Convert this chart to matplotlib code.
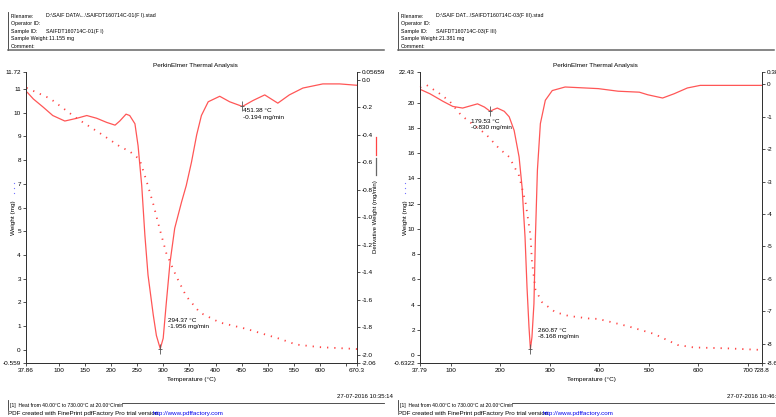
import numpy as np
import matplotlib
matplotlib.use('Agg')
import matplotlib.pyplot as plt
from matplotlib.lines import Line2D

plt.rcParams['font.family'] = ['Liberation Sans Narrow', 'Liberation Sans', 'DejaVu Sans']

# ---- sample F I (left) ----
temp_d1 = [37.86, 37.9, 40, 52, 71, 89, 112, 135, 154, 173, 192, 208, 217, 229, 236, 246, 252,
           259, 265, 271, 281, 287, 294.37, 300, 306, 313, 322, 335, 344, 354, 364, 373, 386,
           408, 427, 451.38, 472, 494, 519, 541, 567, 605, 637, 670.3]
deriv_d1 = [-0.41, -0.09, -0.09, -0.14, -0.20, -0.26, -0.30, -0.28, -0.26, -0.28, -0.31, -0.33,
            -0.30, -0.25, -0.26, -0.32, -0.48, -0.77, -1.13, -1.42, -1.71, -1.86, -1.956, -1.88,
            -1.62, -1.33, -1.08, -0.89, -0.77, -0.60, -0.40, -0.26, -0.16, -0.12, -0.16, -0.194,
            -0.15, -0.11, -0.17, -0.11, -0.06, -0.03, -0.03, -0.04]
temp_w1 = [39, 84, 135, 179, 217, 236, 255, 268, 281, 294, 306, 325, 344, 370, 408, 459, 523,
           554, 599, 662, 670.3]
weight1 = [11.05, 10.6, 9.76, 9.14, 8.58, 8.37, 8.03, 7.13, 6.15, 5.04, 4.07, 3.1, 2.26, 1.57,
           1.15, 0.88, 0.46, 0.22, 0.11, 0.04, 0.03]

# ---- sample F III (right) ----
temp_d3 = [37.79, 58, 84, 104, 124, 154, 168, 179.53, 186, 194, 208, 218, 228, 238, 244, 250,
           254, 258, 260.87, 264, 268, 271, 275, 281, 291, 305, 331, 358, 398, 438, 481, 498,
           528, 551, 578, 604, 718, 728.8]
deriv_d3 = [-0.15, -0.29, -0.52, -0.68, -0.73, -0.60, -0.70, -0.83, -0.78, -0.73, -0.83, -1.0,
            -1.42, -2.24, -3.17, -4.71, -6.26, -7.49, -8.168, -7.8, -6.77, -4.71, -2.65, -1.21,
            -0.49, -0.19, -0.08, -0.10, -0.13, -0.21, -0.24, -0.32, -0.42, -0.29, -0.11, -0.03,
            -0.03, -0.03]
temp_w3 = [38, 51, 78, 98, 121, 144, 171, 198, 218, 238, 251, 261, 264, 271, 284, 311, 338,
           378, 398, 458, 511, 558, 591, 658, 718, 728.8]
weight3 = [21.2, 21.4, 20.7, 20.1, 19.0, 18.3, 17.5, 16.35, 15.7, 14.2, 12.1, 9.5, 7.4, 5.2,
           4.2, 3.4, 3.1, 2.9, 2.86, 2.28, 1.67, 0.8, 0.6, 0.53, 0.42, 0.41]

W, H = 776, 417
fig = plt.figure(figsize=(W / 100, H / 100), dpi=100)

RED = '#ff4444'
FS = 4.6
PLAIN = ['Liberation Sans', 'DejaVu Sans']


def fx(x):
    return x / W


def fy(y):
    return 1 - y / H


def txt(x, y, s, **kw):
    kw.setdefault('fontsize', FS)
    kw.setdefault('va', 'center')
    fig.text(fx(x), fy(y), s, **kw)


def hline(x0, x1, y, lw=0.6, c='#333333'):
    fig.add_artist(Line2D([fx(x0), fx(x1)], [fy(y), fy(y)], lw=lw, color=c, transform=fig.transFigure))


def vline(x, y0, y1, lw=0.6, c='#333333'):
    fig.add_artist(Line2D([fx(x), fx(x)], [fy(y0), fy(y1)], lw=lw, color=c, transform=fig.transFigure))


def panel(ox, left, right, xlim, xticks, xlabels, wlim, wticks, wlabels, dlim, dticks, dlabels,
          td, d, tw, w, notes, fname, sid, swt, stamp, ylx):
    top, bot = 72, 363
    ax = fig.add_axes([fx(left), fy(bot), fx(right - left), (bot - top) / H])
    ax.set_xlim(*xlim)
    ax.set_ylim(*wlim)
    ax.spines['top'].set_visible(False)
    ax.patch.set_alpha(0)
    ax2 = ax.twinx()
    ax2.set_ylim(*dlim)
    ax2.spines['top'].set_visible(False)
    for a in (ax, ax2):
        for s in a.spines.values():
            s.set_linewidth(0.7)
            s.set_color('#333333')
        a.tick_params(labelsize=FS, length=2.5, width=0.6, pad=1.2, color='#333333')
    ax.set_xticks(xticks)
    ax.set_xticklabels(xlabels)
    ax.set_yticks(wticks)
    ax.set_yticklabels(wlabels)
    ax2.set_yticks(dticks)
    ax2.set_yticklabels(dlabels)

    ax.plot(tw, w, ls=(0, (0.7, 3.3)), color=RED, lw=1.3, clip_on=False)
    ax2.plot(td, d, color=RED, lw=0.9, alpha=0.9)

    for (t, v, dx, dy) in notes:
        ax2.plot([t], [v], marker='|', ms=7, mew=0.6, color='#555555')
        ax2.plot([t], [v], marker='_', ms=3, mew=0.6, color='#555555')
        ax2.annotate('%.2f °C\n%.3f mg/min' % (t, v), (t, v), xytext=(dx, dy),
                     textcoords='offset pixels', fontsize=FS, va='top', ha='left',
                     linespacing=1.3)

    mid = (left + right) / 2
    txt(mid + 4, 66, 'PerkinElmer Thermal Analysis', ha='center')
    txt(mid, 380, 'Temperature (°C)', ha='center')
    txt(ylx, 218, 'Weight (mg)', rotation=90, ha='center')
    fig.add_artist(Line2D([fx(ylx)] * 3, [fy(183), fy(188), fy(193)], ls='none', marker='o',
                          ms=0.9, mew=0, color='#7070ff', transform=fig.transFigure))
    txt(right + 19, 217, 'Derivative Weight (mg/min)', rotation=90, ha='center', fontsize=4.3)
    vline(right + 19, 137, 155, lw=0.9, c=RED)
    vline(right + 19, 158, 175, lw=0.9, c='#666666')

    # header block
    lbls = ['Filename:', 'Operator ID:', 'Sample ID:', 'Sample Weight:', 'Comment:']
    vals = [fname, '', sid, swt, '']
    for i, (l, v) in enumerate(zip(lbls, vals)):
        yy = 16 + i * 7.6
        txt(ox + 11, yy, l, fontsize=3.8)
        txt(ox + (49 if l == 'Sample Weight:' else 46), yy, v, fontsize=3.8)
    vline(ox + 8, 12, 50)
    hline(ox + 8, ox + 384, 50, lw=1.1, c='#666666')

    # footer
    txt(ox + 337, 396, stamp, fontsize=4.3)
    vline(ox + 8, 400, 410)
    hline(ox + 122, ox + 384, 403)
    txt(ox + 10, 405, '[1]  Heat from 40.00°C to 730.00°C at 20.00°C/min', fontsize=3.6)
    txt(ox + 8, 413, 'PDF created with FinePrint pdfFactory Pro trial version',
        fontsize=4.5, family=PLAIN)
    txt(ox + 153, 413, 'http://www.pdffactory.com', fontsize=4.5, color='#0000ee', family=PLAIN)
    hline(ox + 153, ox + 223, 416.5, lw=0.6, c='#0000ee')


panel(0, 26, 357, (37.86, 670.3),
      [37.86, 100, 150, 200, 250, 300, 350, 400, 450, 500, 550, 600, 650, 670.3],
      ['37.86', '100', '150', '200', '250', '300', '350', '400', '450', '500', '550', '600', '', '670.3'],
      (-0.559, 11.72), [-0.559] + list(range(0, 12)) + [11.72],
      ['-0.559'] + [str(i) for i in range(0, 12)] + ['11.72'],
      (-2.06, 0.05659), [-2.06, -2.0, -1.8, -1.6, -1.4, -1.2, -1.0, -0.8, -0.6, -0.4, -0.2, 0.0, 0.05659],
      ['-2.06', '-2.0', '-1.8', '-1.6', '-1.4', '-1.2', '-1.0', '-0.8', '-0.6', '-0.4', '-0.2', '0.0', '0.05659'],
      temp_d1, deriv_d1, temp_w1, weight1,
      [(451.38, -0.194, 1, -2), (294.37, -1.956, 8, 31)],
      'D:\\SAIF DATA\\...\\SAIFDT160714C-01(F I).stad', 'SAIFDT160714C-01(F I)', '11.155 mg',
      '27-07-2016 10:35:14', 14)

panel(390, 420, 762, (37.79, 728.8),
      [37.79, 100, 200, 300, 400, 500, 600, 700, 728.8],
      ['37.79', '100', '200', '300', '400', '500', '600', '700', '728.8'],
      (-0.6322, 22.43), [-0.6322] + list(range(0, 21, 2)) + [22.43],
      ['-0.6322'] + [str(i) for i in range(0, 21, 2)] + ['22.43'],
      (-8.60, 0.383), [-8.60] + list(range(-8, 1)) + [0.383],
      ['-8.60'] + [str(i) for i in range(-8, 1)] + ['0.383'],
      temp_d3, deriv_d3, temp_w3, weight3,
      [(179.53, -0.830, -19, -8), (260.87, -8.168, 8, 21)],
      'D:\\SAIF DAT...\\SAIFDT160714C-03(F III).stad', 'SAIFDT160714C-03(F III)', '21.381 mg',
      '27-07-2016 10:46:05', 405)

fig.savefig('out.png', dpi=100)
